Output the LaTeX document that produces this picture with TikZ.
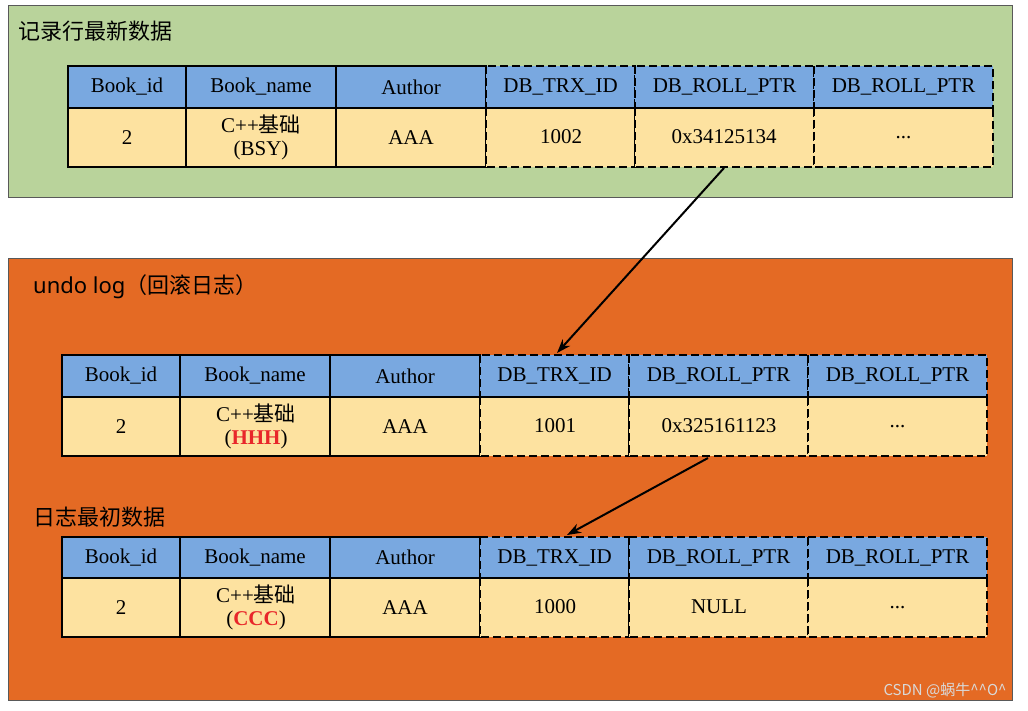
\documentclass[tikz,border=0pt]{standalone}
\usepackage{fontspec}
\setmainfont{Liberation Serif}
\newfontfamily\cjk{Noto Sans CJK SC}
\usetikzlibrary{arrows.meta}
\definecolor{grn}{HTML}{B9D39B}
\definecolor{org}{HTML}{E46A24}
\definecolor{hdr}{HTML}{79A8E0}
\definecolor{dat}{HTML}{FDE2A0}
\definecolor{rd}{HTML}{E8262A}
\tikzset{
 cellS/.style={draw=black,line width=1.6pt},
 cellD/.style={draw=black,line width=1.8pt,dash pattern=on 8pt off 4pt},
 txt/.style={font=\fontsize{21}{23}\selectfont,align=center,inner sep=0pt},
 ttl/.style={font=\cjk\fontsize{22}{26}\selectfont,anchor=west,inner sep=0pt},
 arr/.style={-{Stealth[length=14pt,width=10pt]},line width=2pt}
}
\begin{document}
\begin{tikzpicture}[x=1pt,y=-1pt]
\useasboundingbox (0,0) rectangle (1028,711);
\fill[white] (0,0) rectangle (1028,711);
\draw[fill=grn,draw=gray!70!black] (8,5) rectangle (1012,197);
\draw[fill=org,draw=gray!70!black] (8,258) rectangle (1012,700);
\node[ttl] (t1) at (18,31) {记录行最新数据};
\node[ttl] (t2) at (33,287) {\sffamily\fontspec{Noto Sans}undo log\cjk（回滚日志）};
\node[ttl] (t3) at (33,517) {日志最初数据};
\foreach \X/\Ya/\Yb/\Yc/\N in {68/66/108/167/a,62/355/397/456/b,62/537/578/637/c}{
  \foreach \a/\b in {0/118,118/268,268/418}{
    \draw[cellS,fill=hdr] ({\X+\a},\Ya) rectangle ({\X+\b},\Yb);
    \draw[cellS,fill=dat] ({\X+\a},\Yb) rectangle ({\X+\b},\Yc);
  }
  \foreach \a/\b in {418/567,567/746,746/925}{
    \fill[hdr] ({\X+\a},\Ya) rectangle ({\X+\b},\Yb);
    \fill[dat] ({\X+\a},\Yb) rectangle ({\X+\b},\Yc);
    \draw[cellD] ({\X+\a},\Ya) rectangle ({\X+\b},\Yb);
    \draw[cellD] ({\X+\a},\Yb) rectangle ({\X+\b},\Yc);
  }
  \foreach \a/\b/\t in {0/118/Book\_id,118/268/Book\_name,268/418/Author,418/567/DB\_TRX\_ID,567/746/DB\_ROLL\_PTR,746/925/DB\_ROLL\_PTR}{
    \node[txt] (\N h\a) at ({\X+(\a+\b)/2},{(\Ya+\Yb)/2}) {\t};
  }
  \node[txt] (\N d1) at ({\X+59},{(\Yb+\Yc)/2}) {2};
  \node[txt] (\N d3) at ({\X+343},{(\Yb+\Yc)/2}) {AAA};
  \node[txt] (\N d6) at ({\X+835.5},{(\Yb+\Yc)/2}) {...};
}
\node[txt] (ad2) at (261,137) {C++{\cjk 基础}\\(BSY)};
\node[txt] (bd2) at (256,426) {C++{\cjk 基础}\\(\textcolor{rd}{\textbf{HHH}})};
\node[txt] (cd2) at (256,607) {C++{\cjk 基础}\\(\textcolor{rd}{\textbf{CCC}})};
\node[txt] (ad4) at (561,137) {1002};
\node[txt] (ad5) at (724,137) {0x34125134};
\node[txt] (bd4) at (555,426) {1001};
\node[txt] (bd5) at (719,426) {0x325161123};
\node[txt] (cd4) at (555,607) {1000};
\node[txt] (cd5) at (719,607) {NULL};
\coordinate (p1) at (724,168);
\coordinate (q1) at (557,353);
\coordinate (p2) at (708,458);
\coordinate (q2) at (567,535);
\draw[arr] (p1) -- (q1);
\draw[arr] (p2) -- (q2);
\node[font=\cjk\fontsize{15}{17}\selectfont,text=gray!30,anchor=east] (wm) at (1010,690) {CSDN @蜗牛\^{}\^{}O\^{}};
\end{tikzpicture}
\end{document}
